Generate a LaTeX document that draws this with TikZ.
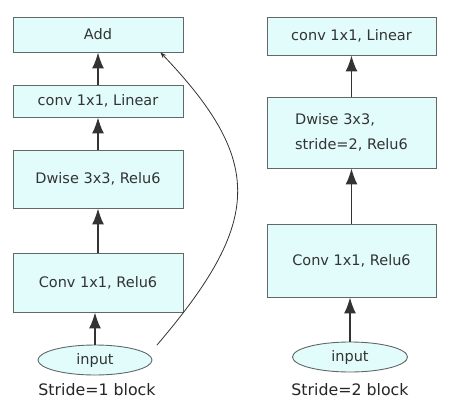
\documentclass[tikz,border=0pt]{standalone}
\usepackage{fontspec}
\setmainfont{DejaVu Sans}
\usetikzlibrary{arrows.meta,shapes.geometric}
\definecolor{boxfill}{HTML}{E2FCFC}
\definecolor{boxline}{HTML}{606868}
\definecolor{txt}{HTML}{333333}
\begin{document}
\begin{tikzpicture}[x=1pt,y=-1pt,
  blk/.style={draw=boxline,fill=boxfill,line width=0.9pt,minimum width=170pt,inner sep=0pt,
    text=txt,font=\fontsize{14.5}{17.5}\selectfont,align=left},
  inp/.style={ellipse,draw=boxline,fill=boxfill,line width=0.9pt,minimum width=114pt,minimum height=30pt,
    inner sep=0pt,text=txt,font=\fontsize{14.5}{17.5}\selectfont},
  lab/.style={text=black!85,font=\fontsize{15.8}{19}\selectfont,inner sep=0pt},
  flow/.style={draw=black!80,line width=1.6pt,-{Latex[length=16pt,width=12pt]}},
  skip/.style={draw=black!80,line width=0.8pt,-{Stealth[length=6pt,width=4.5pt]}}]
\useasboundingbox[fill=white] (0,0) rectangle (449,409);
% left block
\node[blk,minimum height=35pt] (add) at (98,34.5) {Add};
\node[blk,minimum height=32pt] (lin1) at (98,101) {conv 1x1, Linear};
\node[blk,minimum height=58pt] (dw1) at (98,179) {Dwise 3x3, Relu6};
\node[blk,minimum height=59pt] (c1) at (98,282.5) {Conv 1x1, Relu6};
\node[inp] (in1) at (95,360) {input};
\node[lab] (lab1) at (97,390) {Stride=1 block};
% right block
\node[blk,minimum width=169pt,minimum height=38pt] (lin2) at (351.5,36) {conv 1x1, Linear};
\node[blk,minimum width=169pt,minimum height=71pt] (dw2) at (351.5,132.5) {Dwise 3x3,\\[7pt]stride=2, Relu6};
\node[blk,minimum width=169pt,minimum height=73pt] (c2) at (351.5,260.5) {Conv 1x1, Relu6};
\node[inp,minimum width=115pt] (in2) at (350,357) {input};
\node[lab] (lab2) at (350,390) {Stride=2 block};
% left arrows
\draw[flow] (in1.north) -- (in1.north |- c1.south);
\draw[flow] (c1.north) -- (dw1.south);
\draw[flow] (dw1.north) -- (lin1.south);
\draw[flow] (lin1.north) -- (add.south);
% skip connection
\coordinate (skipstart) at (157,345);
\draw[skip] (skipstart) .. controls (262,222) and (265,162) .. ([xshift=-23pt]add.south east);
% right arrows
\draw[flow] (in2.north) -- (in2.north |- c2.south);
\draw[flow] (c2.north) -- (dw2.south);
\draw[flow] (dw2.north) -- (lin2.south);
\end{tikzpicture}
\end{document}
